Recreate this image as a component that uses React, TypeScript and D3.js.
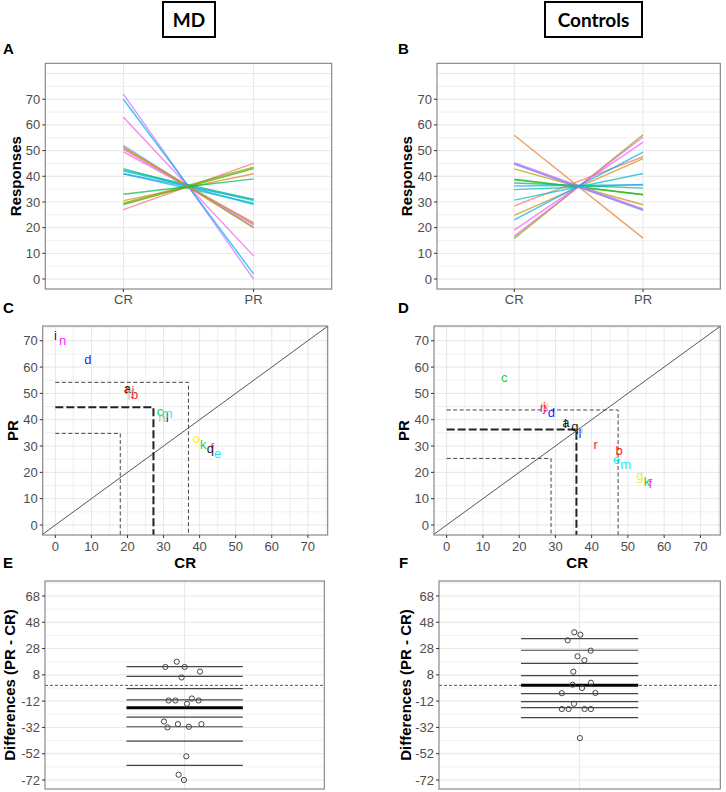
import React from 'react';
import * as d3 from 'd3';

const subjects = ['a', 'b', 'c', 'd', 'e', 'f', 'g', 'h', 'i', 'j', 'k', 'l', 'm', 'n', 'o', 'p', 'q', 'r'];

// MD group: responses at CR and PR (panel A); panel C plots them as PR on x, CR on y, as in the figure
const mdCR = [52, 49.5, 43, 63, 27, 29.5, 42, 41, 72, 51, 30.5, 41, 42.5, 70, 33, 50.5, 29, 51.5];
const mdPR = [20, 22, 29, 9, 45, 43.5, 30.5, 29.5, 0, 21.5, 41, 31, 31, 2, 39, 21, 43, 20];
// Controls
const ctCR = [38.9, 28.5, 56, 42.9, 24.8, 15.8, 19, 44.8, 38.6, 45, 16.7, 34.8, 23, 44.7, 45.3, 36.2, 37.4, 30.7];
const ctPR = [32.9, 47.6, 15.9, 28.9, 46.9, 56.2, 53.3, 26.8, 32.8, 27, 55.3, 36.8, 49.4, 26.7, 27.3, 36.7, 35.4, 41.1];

// horizontal jitter of the difference points (category units)
const mdJitter = [-0.074, -0.089, 0.01, 0.007, -0.034, -0.083, -0.069, -0.04, -0.003, -0.029, 0.066, 0.031, 0.06, -0.026, -0.013, 0.072, 0, 0.018];
const ctJitter = [-0.076, 0.02, 0.001, -0.024, -0.009, -0.023, -0.051, -0.076, 0.067, -0.047, 0.003, 0.048, 0.047, 0.021, 0.048, -0.03, 0.01, -0.027];

// deciles of the differences, 0.9 down to 0.1 (median in the middle)
const mdDeciles = [14.2, 6.9, -2.5, -11.1, -17, -24.1, -31.5, -42.4, -60.8];
const ctDeciles = [35.5, 26.7, 16.8, 7.4, 0, -6.3, -12.4, -17, -24.6];

// quartiles drawn as dashed corners (x = CR axis, y = PR axis)
const mdQx = [18, 27.2, 36.9];
const mdQy = [34.8, 44.7, 54.2];
const ctQx = [28.8, 35.8, 47.3];
const ctQy = [25.3, 36.3, 43.7];

const conditions = ['CR', 'PR'];
const respTicks = [0, 10, 20, 30, 40, 50, 60, 70];
const scatterTicks = [0, 10, 20, 30, 40, 50, 60, 70];
const diffTicks = [68, 48, 28, 8, -12, -32, -52, -72];

const mdLineColors = ['#9590FF', '#FF62BC', '#00BFC4', '#F564E3', '#F8766D', '#7CAE00', '#00C1A3', '#00BAE0', '#C77CFF',
  '#C09B00', '#EA8331', '#35A2FF', '#00BF7D', '#00B0F6', '#00BB4E', '#E76BF3', '#39B600', '#A3A500'];
const ctLineColors = ['#00BB4E', '#F8766D', '#EA8331', '#C09B00', '#D89000', '#7CAE00', '#E76BF3', '#00BAE0', '#39B600',
  '#FF62BC', '#FA62DB', '#00C1A3', '#00B0F6', '#9590FF', '#C77CFF', '#35A2FF', '#00BF7D', '#00BFC4'];
const letterPalette = ['#000000', '#FF0000', '#00CD00', '#0000FF', '#00E5EE', '#FF00FF', '#EEEE00', '#BEBEBE'];

const FONT = "'Liberation Sans', Arial, sans-serif";
const TICK = { fontFamily: FONT, fontSize: 13, fill: '#4d4d4d' };
const TITLE = { fontFamily: FONT, fontSize: 15, fontWeight: 700, fill: '#000' };
const GRID = '#e6e6e6';
const BORDER = '#7f7f7f';

function Frame({ l, r, t, b }) {
  return <rect x={l} y={t} width={r - l} height={b - t} fill="none" stroke={BORDER} strokeWidth={1.1} />;
}

function YAxis({ y, ticks, l }) {
  return (
    <g>
      {ticks.map((v) => (
        <g key={v}>
          <line x1={l - 3} x2={l} y1={y(v)} y2={y(v)} stroke="#333" />
          <text x={l - 5} y={y(v)} dy="0.35em" textAnchor="end" style={TICK}>{v}</text>
        </g>
      ))}
    </g>
  );
}

function LinePanel({ l, r, cr, pr, colors, titleX }) {
  const t = 63.3, b = 289;
  const x = d3.scalePoint().domain(conditions).range([l, r]).padding(0.6);
  const y = d3.scaleLinear().domain([-3.9, 84]).range([b, t]);
  const grid = d3.range(0, 81, 5);
  const line = d3.line<[string, number]>().x((d) => x(d[0])).y((d) => y(d[1]));
  return (
    <g>
      {grid.map((v) => (
        <line key={v} x1={l} x2={r} y1={y(v)} y2={y(v)} stroke={GRID} strokeWidth={v % 10 === 0 ? 1 : 0.6} />
      ))}
      {conditions.map((c) => (
        <line key={c} x1={x(c)} x2={x(c)} y1={t} y2={b} stroke={GRID} />
      ))}
      {subjects.map((s, i) => (
        <path key={s} d={line([['CR', cr[i]], ['PR', pr[i]]])} stroke={colors[i]} strokeWidth={1.4}
          strokeOpacity={0.75} fill="none" />
      ))}
      <Frame l={l} r={r} t={t} b={b} />
      <YAxis y={y} ticks={respTicks} l={l} />
      {conditions.map((c) => (
        <g key={c}>
          <line x1={x(c)} x2={x(c)} y1={b} y2={b + 3} stroke="#333" />
          <text x={x(c)} y={b + 15} textAnchor="middle" style={TICK}>{c}</text>
        </g>
      ))}
      <text transform={`translate(${titleX},${(t + b) / 2}) rotate(-90)`} textAnchor="middle" dy="0.35em" style={TITLE}>Responses</text>
    </g>
  );
}

function ScatterPanel({ l, r, cr, pr, qx, qy, titleX }) {
  const t = 326, b = 535;
  const x = d3.scaleLinear().domain([-3.5, 75.5]).range([l, r]);
  const y = d3.scaleLinear().domain([-3.8, 75.6]).range([b, t]);
  const grid = d3.range(0, 76, 5);
  return (
    <g>
      {grid.map((v) => (
        <g key={v}>
          <line x1={l} x2={r} y1={y(v)} y2={y(v)} stroke={GRID} strokeWidth={v % 10 === 0 ? 1 : 0.6} />
          <line x1={x(v)} x2={x(v)} y1={t} y2={b} stroke={GRID} strokeWidth={v % 10 === 0 ? 1 : 0.6} />
        </g>
      ))}
      <line x1={x(-3.5)} y1={y(-3.5)} x2={x(75.5)} y2={y(75.5)} stroke="#555" strokeWidth={1} />
      {qx.map((q, i) => {
        const thick = i === 1;
        const st = { stroke: thick ? '#222' : '#444', strokeWidth: thick ? 2 : 1, strokeDasharray: thick ? '8 3' : '4 2.5', fill: 'none' };
        return (
          <path key={i} d={`M${x(0)},${y(qy[i])}H${x(q)}V${b}`} style={st} />
        );
      })}
      {subjects.map((s, i) => (
        <text key={s} x={x(pr[i])} y={y(cr[i])} dy="0.35em" textAnchor="middle" fontFamily={FONT} fontSize={13}
          fill={letterPalette[i % 8]} fillOpacity={0.9}>{s}</text>
      ))}
      <Frame l={l} r={r} t={t} b={b} />
      <YAxis y={y} ticks={scatterTicks} l={l} />
      {scatterTicks.map((v) => (
        <g key={v}>
          <line x1={x(v)} x2={x(v)} y1={b} y2={b + 3} stroke="#333" />
          <text x={x(v)} y={b + 16} textAnchor="middle" style={TICK}>{v}</text>
        </g>
      ))}
      <text x={(l + r) / 2} y={568} textAnchor="middle" style={TITLE}>CR</text>
      <text transform={`translate(${titleX},${(t + b) / 2}) rotate(-90)`} textAnchor="middle" dy="0.35em" style={TITLE}>PR</text>
    </g>
  );
}

function DiffPanel({ l, r, cr, pr, jitter, deciles, titleX }) {
  const t = 581, b = 789;
  const x = d3.scaleLinear().domain([0.4, 1.6]).range([l, r]);
  const y = d3.scaleLinear().domain([-78.85, 79.4]).range([b, t]);
  const grid = d3.range(-72, 79, 10);
  const diffs = subjects.map((s, i) => pr[i] - cr[i]);
  return (
    <g>
      {grid.map((v) => (
        <line key={v} x1={l} x2={r} y1={y(v)} y2={y(v)} stroke={GRID} strokeWidth={(v + 72) % 20 === 0 ? 1 : 0.6} />
      ))}
      <line x1={x(1)} x2={x(1)} y1={t} y2={b} stroke={GRID} />
      <line x1={l} x2={r} y1={y(0)} y2={y(0)} stroke="#555" strokeDasharray="3 2" />
      {deciles.map((d, i) => (
        <line key={i} x1={x(0.75)} x2={x(1.25)} y1={y(d)} y2={y(d)} stroke={i === 4 ? '#000' : '#444'}
          strokeWidth={i === 4 ? 3 : 1.2} />
      ))}
      {diffs.map((d, i) => (
        <circle key={i} cx={x(1 + jitter[i])} cy={y(d)} r={2.6} fill="none" stroke="#444" strokeWidth={1} />
      ))}
      <Frame l={l} r={r} t={t} b={b} />
      <YAxis y={y} ticks={diffTicks} l={l} />
      <text transform={`translate(${titleX},${(t + b) / 2}) rotate(-90)`} textAnchor="middle" dy="0.35em" style={TITLE}>Differences (PR - CR)</text>
    </g>
  );
}

function Header({ cx, w, label }) {
  return (
    <g>
      <rect x={cx - w / 2} y={2} width={w} height={35} fill="#fff" stroke="#000" strokeWidth={2} />
      <text x={cx} y={20} dy="0.35em" textAnchor="middle" fontFamily="Lato, 'Open Sans', sans-serif" fontWeight={700} fontSize={19}>{label}</text>
    </g>
  );
}

function PanelLabel({ x, y, t }) {
  return <text x={x} y={y} fontFamily={FONT} fontWeight={700} fontSize={15}>{t}</text>;
}

export default function App() {
  return (
    <svg width={726} height={792} style={{ position: 'absolute', left: 0, top: 0, background: '#fff' }}>
      <rect width={726} height={792} fill="#fff" />
      <Header cx={189} w={52} label="MD" />
      <Header cx={593.5} w={97} label="Controls" />
      <PanelLabel x={3} y={54} t="A" />
      <PanelLabel x={398} y={54} t="B" />
      <PanelLabel x={3} y={313} t="C" />
      <PanelLabel x={398} y={313} t="D" />
      <PanelLabel x={3} y={568} t="E" />
      <PanelLabel x={399} y={568} t="F" />
      <LinePanel l={45.3} r={331.7} cr={mdCR} pr={mdPR} colors={mdLineColors} titleX={15.5} />
      <LinePanel l={437} r={720.3} cr={ctCR} pr={ctPR} colors={ctLineColors} titleX={407} />
      <ScatterPanel l={42.7} r={327.7} cr={mdCR} pr={mdPR} qx={mdQx} qy={mdQy} titleX={12.5} />
      <ScatterPanel l={434} r={720.3} cr={ctCR} pr={ctPR} qx={ctQx} qy={ctQy} titleX={404} />
      <DiffPanel l={45} r={324.3} cr={mdCR} pr={mdPR} jitter={mdJitter} deciles={mdDeciles} titleX={9.5} />
      <DiffPanel l={439} r={720.3} cr={ctCR} pr={ctPR} jitter={ctJitter} deciles={ctDeciles} titleX={405.5} />
    </svg>
  );
}
